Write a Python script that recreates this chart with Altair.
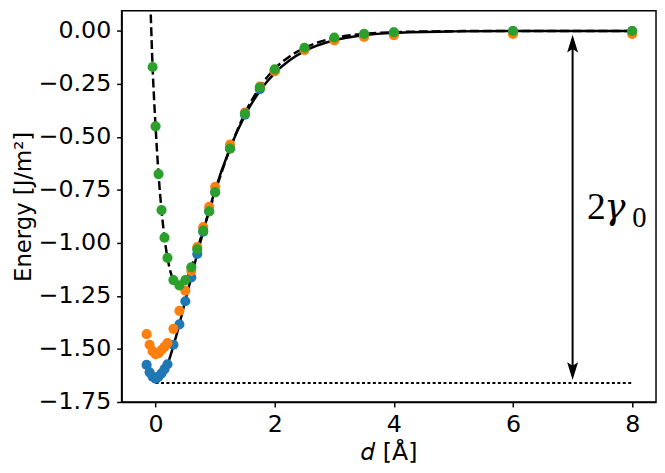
import altair as alt
import pandas as pd

# ---- data ----
grid_d = [-0.15, -0.1, -0.05, 0.0, 0.05, 0.1, 0.15, 0.2, 0.3, 0.4, 0.5, 0.6, 0.7, 0.8,
          0.9, 1.0, 1.25, 1.5, 1.75, 2.0, 2.5, 3.0, 3.5, 4.0, 6.0, 8.0]
blue_E = [-1.575, -1.61, -1.63, -1.64, -1.63, -1.615, -1.595, -1.572, -1.48, -1.384, -1.275,
          -1.162, -1.052, -0.947, -0.85, -0.76, -0.553, -0.395, -0.275, -0.188, -0.088,
          -0.04, -0.018, -0.008, 0.0, 0.0]
orange_E = [-1.43, -1.48, -1.51, -1.525, -1.52, -1.505, -1.49, -1.472, -1.405, -1.32, -1.225,
            -1.132, -1.019, -0.925, -0.83, -0.735, -0.536, -0.385, -0.262, -0.19, -0.089,
            -0.045, -0.028, -0.02, -0.014, -0.014]
green_d = [-0.05, 0.0, 0.05, 0.1, 0.15, 0.2, 0.3, 0.4, 0.5, 0.6, 0.7, 0.8, 0.9, 1.0,
           1.25, 1.5, 1.75, 2.0, 2.5, 3.0, 3.5, 4.0, 6.0, 8.0]
green_E = [-0.17, -0.45, -0.675, -0.845, -0.975, -1.07, -1.175, -1.2, -1.175, -1.115, -1.03,
           -0.942, -0.851, -0.76, -0.555, -0.39, -0.267, -0.181, -0.079, -0.031, -0.014,
           -0.006, 0.0, 0.0]

solid_d = [0.0, 0.05, 0.1, 0.15, 0.2, 0.3, 0.4, 0.5, 0.6, 0.7, 0.8, 0.9, 1.0, 1.25, 1.5,
           1.75, 2.0, 2.25, 2.5, 3.0, 3.5, 4.0, 5.0, 6.0, 7.0, 8.0]
solid_E = [-1.66, -1.653, -1.632, -1.607, -1.573, -1.485, -1.383, -1.27, -1.161, -1.051,
           -0.945, -0.846, -0.75, -0.553, -0.399, -0.283, -0.199, -0.138, -0.095, -0.044,
           -0.02, -0.009, -0.002, 0.0, 0.0, 0.0]
dash_d = [-0.1, -0.075, -0.05, -0.025, 0.0, 0.05, 0.1, 0.15, 0.2, 0.25, 0.3, 0.35, 0.4, 0.45,
          0.5, 0.6, 0.7, 0.8, 0.9, 1.0, 1.25, 1.5, 1.75, 2.0, 2.25, 2.5, 3.0, 3.5, 4.0, 5.0,
          6.0, 8.0]
dash_E = [0.26, 0.03, -0.17, -0.32, -0.45, -0.675, -0.845, -0.975, -1.07, -1.135, -1.175,
          -1.195, -1.2, -1.193, -1.175, -1.115, -1.03, -0.94, -0.85, -0.76, -0.555, -0.388,
          -0.265, -0.178, -0.12, -0.08, -0.033, -0.014, -0.006, -0.001, 0.0, 0.0]

min_level = -1.66
level_d = [0.0, 8.0]
arrow_x = 7.0
arrow_top = -0.018
arrow_bottom = -1.646

x_ticks = [0, 2, 4, 6, 8]
y_ticks = [0.0, -0.25, -0.5, -0.75, -1.0, -1.25, -1.5, -1.75]

FONT = "DejaVu Sans"
FS = 24

x_scale = alt.Scale(domain=[-0.57, 8.4], nice=False, zero=False)
y_scale = alt.Scale(domain=[-1.75, 0.095], nice=False, zero=False)

x_axis = alt.Axis(values=x_ticks, format="d", title="𝑑 [Å]", grid=False,
                  labelFont=FONT, labelFontSize=FS, labelColor="black",
                  titleFont=FONT, titleFontSize=FS, titleFontWeight="normal", titleColor="black",
                  tickColor="black", tickSize=5, tickWidth=1.5,
                  domainColor="black", domainWidth=1.5, labelPadding=6, titlePadding=4)
y_axis = alt.Axis(values=y_ticks, title="Energy [J/m²]", grid=False,
                  labelExpr="replace(format(datum.value, '.2f'), '-', '−')",
                  labelFont=FONT, labelFontSize=FS, labelColor="black",
                  titleFont=FONT, titleFontSize=23, titleFontWeight="normal", titleColor="black",
                  tickColor="black", tickSize=5, tickWidth=1.5,
                  domainColor="black", domainWidth=1.5, labelPadding=6, titlePadding=3)


def X(field="d"):
    return alt.X(f"{field}:Q", scale=x_scale, axis=x_axis)


def Y(field="E"):
    return alt.Y(f"{field}:Q", scale=y_scale, axis=y_axis)


solid = alt.Chart(pd.DataFrame({"d": solid_d, "E": solid_E})).mark_line(
    color="black", strokeWidth=2.5, interpolate="monotone", clip=True
).encode(x=X(), y=Y())

dashed = alt.Chart(pd.DataFrame({"d": dash_d, "E": dash_E})).mark_line(
    color="black", strokeWidth=2.5, strokeDash=[9, 4], interpolate="monotone", clip=True
).encode(x=X(), y=Y())

level = alt.Chart(pd.DataFrame({"d": level_d, "E": [min_level, min_level]})).mark_line(
    color="black", strokeWidth=2, strokeDash=[3, 2.5]
).encode(x=X(), y=Y())

shaft = alt.Chart(pd.DataFrame({"d": [arrow_x], "E": [arrow_top - 0.03],
                                "E2": [arrow_bottom + 0.03]})).mark_rule(
    color="black", strokeWidth=2
).encode(x=X(), y=Y(), y2="E2:Q")

up_head = "M0,0 L0.46,1.5 L0,1.2 L-0.46,1.5 Z"
down_head = "M0,0 L0.46,-1.5 L0,-1.2 L-0.46,-1.5 Z"
heads = alt.Chart(pd.DataFrame({"d": [arrow_x, arrow_x], "E": [arrow_top, arrow_bottom],
                                "shape": [up_head, down_head]})).mark_point(
    filled=True, color="black", size=576, strokeWidth=0, opacity=1
).encode(x=X(), y=Y(), shape=alt.Shape("shape:N", scale=None))


def points(d, E, color):
    return alt.Chart(pd.DataFrame({"d": d, "E": E})).mark_circle(
        size=105, color=color, opacity=1
    ).encode(x=X(), y=Y())


blue = points(grid_d, blue_E, "#1f77b4")
orange = points(grid_d, orange_E, "#ff7f0e")
green = points(green_d, green_E, "#2ca02c")

t2 = alt.Chart(pd.DataFrame({"d": [7.24], "E": [-0.885], "t": ["2"]})).mark_text(
    align="left", baseline="alphabetic", font="Liberation Serif", fontSize=38, color="black"
).encode(x=X(), y=Y(), text="t:N")
tg = alt.Chart(pd.DataFrame({"d": [7.53], "E": [-0.885], "t": ["γ"]})).mark_text(
    align="left", baseline="alphabetic", font="DejaVu Serif", fontSize=36, fontStyle="italic",
    color="black"
).encode(x=X(), y=Y(), text="t:N")
t0 = alt.Chart(pd.DataFrame({"d": [8.0], "E": [-0.925], "t": ["0"]})).mark_text(
    align="left", baseline="alphabetic", font="Liberation Serif", fontSize=29, color="black"
).encode(x=X(), y=Y(), text="t:N")

chart = alt.layer(
    level, solid, dashed, shaft, heads, blue, orange, green, t2, tg, t0
).properties(
    width=541, height=396,
    autosize=alt.AutoSizeParams(type="none"),
    padding={"left": 115, "top": 0, "right": 1, "bottom": 66},
    background="white",
).configure_view(stroke="black", strokeWidth=1.5)

chart.save("out.html", embed_options={"renderer": "svg", "actions": False})
